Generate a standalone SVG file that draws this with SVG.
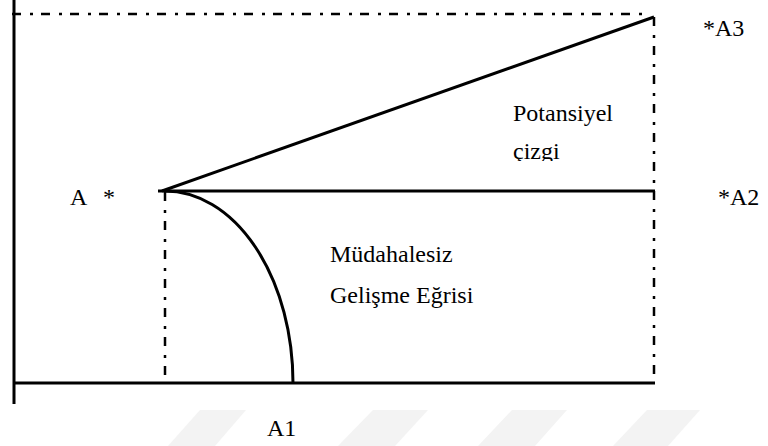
<svg xmlns="http://www.w3.org/2000/svg" width="768" height="446" viewBox="0 0 768 446">
<style>
  .solid{stroke:#000;stroke-width:3;fill:none}
  .dd{stroke:#000;stroke-width:2.5;fill:none;stroke-dasharray:9 9 3 8}
  .t{font-family:'Liberation Serif','DejaVu Serif',Times,serif;font-size:24px;fill:#000}
  .wm{fill:#f3f3f3}
</style>
<defs>
  <clipPath id="clipCizgi"><rect x="480" y="130" width="120" height="31"/></clipPath>
</defs>
<rect width="768" height="446" fill="#fff"/>
<g id="watermark">
  <polygon class="wm" points="200,410 246,410 215,446 168,446"/>
  <polygon class="wm" points="373,410 428,410 395,446 338,446"/>
  <polygon class="wm" points="512,410 567,410 535,446 478,446"/>
  <polygon class="wm" points="647,410 700,410 668,446 613,446"/>
</g>
<g id="connectors">
  <line class="solid" x1="14" y1="0" x2="14" y2="404"/>
  <line class="solid" x1="13" y1="383" x2="655" y2="383"/>
  <line class="dd" x1="12" y1="14" x2="650" y2="14"/>
  <line class="dd" x1="654" y1="17" x2="654" y2="383"/>
  <line class="dd" x1="165" y1="192" x2="165" y2="383"/>
  <line class="solid" x1="158" y1="191" x2="655" y2="191"/>
  <line class="solid" x1="162" y1="191" x2="654" y2="17"/>
  <path class="solid" d="M165,191 A128,192 0 0 1 293,383"/>
</g>
<g id="label-A3"><text class="t" font-family="Liberation Serif, serif" x="703" y="36">*A3</text></g>
<g id="label-A2"><text class="t" font-family="Liberation Serif, serif" x="718" y="205">*A2</text></g>
<g id="label-A"><text class="t" font-family="Liberation Serif, serif" x="70" y="205">A <tspan x="103">*</tspan></text></g>
<g id="label-A1"><text class="t" font-family="Liberation Serif, serif" x="267" y="436">A1</text></g>
<g id="label-potansiyel">
  <text class="t" font-family="Liberation Serif, serif" x="513" y="121">Potansiyel</text>
  <text class="t" font-family="Liberation Serif, serif" x="513" y="159" clip-path="url(#clipCizgi)">çizgi</text>
</g>
<g id="label-mudahalesiz">
  <text class="t" font-family="Liberation Serif, serif" x="330" y="262">Müdahalesiz</text>
  <text class="t" font-family="Liberation Serif, serif" x="330" y="303">Gelişme Eğrisi</text>
</g>
</svg>
